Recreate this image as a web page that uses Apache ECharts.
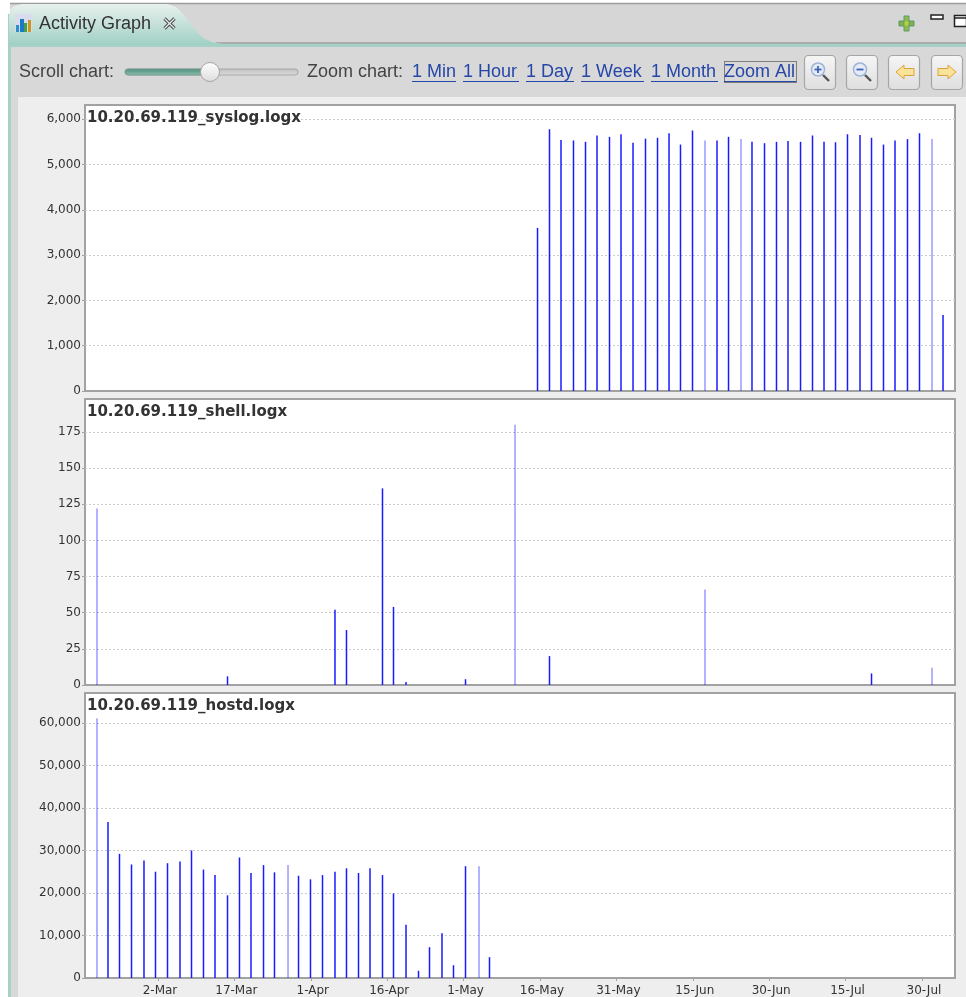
<!DOCTYPE html>
<html lang="en">
  <head>
    <meta charset="UTF-8" />
    <title>Activity Graph</title>
    <script src="https://cdn.jsdelivr.net/npm/echarts/dist/echarts.min.js"></script>
    <style>
      html, body { margin: 0; padding: 0; background: #fff; overflow: hidden; }
      #main { width: 966px; height: 997px; }
    </style>
  </head>
  <body>
    <div id="main"></div>
    <script>
      // x values are day of the year (non leap)
      var tickDays = [61, 76, 91, 106, 121, 136, 151, 166, 181, 196, 211];
      var tickNames = ["2-Mar", "17-Mar", "1-Apr", "16-Apr", "1-May", "16-May", "31-May", "15-Jun", "30-Jun", "15-Jul", "30-Jul"];

      var syslogDays = [135.52, 137.87, 140.13, 142.58, 144.94, 147.2, 149.65, 151.91, 154.27, 156.72, 159.08, 161.34, 163.59, 165.95, 168.4, 170.76, 173.02, 175.47, 177.63, 180.09, 182.44, 184.7, 187.16, 189.51, 191.77, 194.03, 196.38, 198.84, 201.1, 203.45, 205.71, 208.16, 210.52, 212.98, 215.14];
      var syslogCounts = [3600, 5780, 5540, 5530, 5500, 5640, 5610, 5670, 5480, 5570, 5590, 5690, 5440, 5750, 5530, 5530, 5610, 5560, 5500, 5470, 5500, 5520, 5500, 5640, 5500, 5490, 5670, 5650, 5590, 5440, 5530, 5560, 5690, 5560, 1680];

      var shellDays = [49.02, 74.65, 95.75, 98.01, 105.08, 107.24, 109.7, 121.38, 131.1, 137.87, 168.4, 201.1, 212.98];
      var shellCounts = [122, 6, 52, 38, 136, 54, 2, 4, 180, 20, 66, 8, 12];

      var hostdDays = [49.02, 51.18, 53.44, 55.8, 58.25, 60.51, 62.87, 65.32, 67.58, 69.93, 72.19, 74.65, 77, 79.26, 81.72, 83.87, 86.53, 88.59, 90.94, 93.3, 95.75, 98.01, 100.37, 102.63, 105.08, 107.24, 109.7, 112.15, 114.31, 116.76, 119.02, 121.38, 124.03, 126.09];
      var hostdCounts = [61100, 36700, 29200, 26700, 27650, 25000, 27000, 27400, 30000, 25500, 24200, 19450, 28350, 24700, 26550, 24850, 26550, 24050, 23200, 24200, 25000, 25800, 24700, 25800, 24200, 19900, 12500, 1700, 7250, 10550, 3000, 26300, 26300, 4900];

      // these bins came out much paler in the screenshot
      var paleDays = [49.02, 86.53, 124.03, 131.1, 168.4, 175.47, 212.98];

      var panelNames = ["10.20.69.119_syslog.logx", "10.20.69.119_shell.logx", "10.20.69.119_hostd.logx"];
      var syslogTicks = [0, 1000, 2000, 3000, 4000, 5000, 6000];
      var shellTicks = [0, 25, 50, 75, 100, 125, 150, 175];
      var hostdTicks = [0, 10000, 20000, 30000, 40000, 50000, 60000];
      var linkNames = ["1 Min", "1 Hour", "1 Day", "1 Week", "1 Month", "Zoom All"];

      var FONT = "'DejaVu Sans'";
      var UI_FONT = "'Liberation Sans'";
      var panels = [
        { top: 105, yMax: 6313, days: syslogDays, counts: syslogCounts, ticks: syslogTicks },
        { top: 399, yMax: 197.8, days: shellDays, counts: shellCounts, ticks: shellTicks },
        { top: 693, yMax: 67030, days: hostdDays, counts: hostdCounts, ticks: hostdTicks },
      ];

      var chartDom = document.getElementById("main");
      var myChart = echarts.init(chartDom, null, { renderer: "canvas" });

      function rect(x, y, w, h, fill, extra) {
        return { type: "rect", z: -10, shape: { x: x, y: y, width: w, height: h, r: (extra && extra.r) || 0 }, style: { fill: fill, stroke: extra && extra.stroke, lineWidth: extra && extra.lineWidth } };
      }
      function poly(points, fill, stroke) {
        return { type: "polygon", z: -5, shape: { points: points }, style: { fill: fill, stroke: stroke, lineWidth: 1 } };
      }
      function seg(x1, y1, x2, y2, color, width, dash) {
        return { type: "line", z: -5, shape: { x1: x1, y1: y1, x2: x2, y2: y2 }, style: { stroke: color, lineWidth: width, lineDash: dash } };
      }
      function label(text, x, y, fill, size) {
        return { type: "text", z: 5, style: { text: text, x: x, y: y, fill: fill, font: (size || 18) + "px " + UI_FONT, textVerticalAlign: "middle" } };
      }
      function vGrad(a, b) {
        return new echarts.graphic.LinearGradient(0, 0, 0, 1, [
          { offset: 0, color: a },
          { offset: 1, color: b },
        ]);
      }

      // the eclipse view around the charts
      var chrome = [
        rect(0, 0, 966, 997, "#ffffff"),
        rect(10, 3, 956, 41, "#d6d6d6"),
        rect(10, 44, 956, 953, "#d8d8d8"),
        seg(10, 3.5, 966, 3.5, "#9c9c9c", 1.5),
        seg(216, 43, 966, 43, "#9c9c9c", 1.5),
        rect(8, 44, 958, 3, "#a4d2c6"),
        rect(8, 14, 3, 983, "#a4d2c6"),
        rect(18, 97, 948, 900, "#eeeeee"),
      ];
      var tab = poly(
        [[9, 45], [9, 16], [10, 10], [14, 6], [22, 4], [168, 4], [176, 7], [183, 14], [190, 23], [196, 31], [203, 38], [212, 42], [224, 44], [224, 45]],
        vGrad("#e8f1ee", "#a0d0c4"),
        null
      );
      var tabIcon = [
        rect(15, 14, 17, 18, "#d8dcec"),
        rect(16, 25, 3, 7, "#2a8fd0"),
        rect(20, 19, 4, 13, "#1b7ac8"),
        rect(24, 23, 3, 9, "#4aa040"),
        rect(28, 20, 3, 12, "#c89820"),
      ].map(function (r) { r.z = -3; return r; });
      var closeIcon = [
        seg(164.5, 18.5, 174.5, 28.5, "#444", 3.2),
        seg(174.5, 18.5, 164.5, 28.5, "#444", 3.2),
        seg(164.5, 18.5, 174.5, 28.5, "#f0f0f0", 1.2),
        seg(174.5, 18.5, 164.5, 28.5, "#f0f0f0", 1.2),
      ];
      var windowIcons = [
        rect(899, 21, 15, 5, "#7fb04a", { stroke: "#5c9a6a", lineWidth: 1 }),
        rect(904, 16, 5, 15, "#8cbc50", { stroke: "#5c9a6a", lineWidth: 1 }),
        rect(904.5, 21.5, 4, 4, "#b8d040"),
        rect(931, 15, 12, 4, "#ffffff", { stroke: "#222", lineWidth: 1.5 }),
        rect(954.5, 15.5, 12, 11, "#ffffff", { stroke: "#222", lineWidth: 1.5 }),
        seg(954.5, 18, 966, 18, "#222", 1.5),
      ].map(function (r) { r.z = -3; return r; });

      var slider = [
        rect(125, 69, 173, 6, vGrad("#bdbdbd", "#dedede"), { r: 3, stroke: "#a8a8a8", lineWidth: 1 }),
        rect(125, 69, 85, 6, vGrad("#4d8b7a", "#8cc0b0"), { r: 3, stroke: "#7a9e94", lineWidth: 1 }),
        { type: "circle", shape: { cx: 210, cy: 72, r: 9.5 }, style: { fill: vGrad("#ffffff", "#dcdcdc"), stroke: "#a4a4a4", lineWidth: 1 } },
      ].map(function (r) { r.z = -3; return r; });

      var linkX = [412, 463, 526, 581, 651, 724];
      var linkW = [44, 56, 48, 63, 67, 72];
      var toolbar = [label("Scroll chart:", 19, 72, "#444"), label("Zoom chart:", 307, 72, "#444")];
      linkNames.forEach(function (name, i) {
        toolbar.push(label(name, linkX[i], 72, "#2646a8"));
        toolbar.push(seg(linkX[i], 81.5, linkX[i] + linkW[i], 81.5, "#2646a8", 1.2));
      });
      toolbar.push({ type: "rect", z: 4, shape: { x: 724.5, y: 61.5, width: 72, height: 21 }, style: { fill: null, stroke: "#222", lineWidth: 1, lineDash: [1, 1] } });

      var buttons = [];
      [804, 846, 888, 931].forEach(function (x) {
        buttons.push({ type: "rect", z: -7, shape: { x: x + 0.5, y: 55.5, width: 31, height: 34, r: 4 }, style: { fill: vGrad("#f6f6f6", "#dedede"), stroke: "#a6a6a6", lineWidth: 1.2 } });
      });
      function lens(cx, minus) {
        var out = [
          seg(cx + 5, 75, cx + 11, 81, "#555", 2.4),
          { type: "circle", z: -4, shape: { cx: cx, cy: 69.5, r: 6.5 }, style: { fill: "#e4ecf8", stroke: "#9fb4d6", lineWidth: 1.5 } },
          seg(cx - 3.5, 69.5, cx + 3.5, 69.5, "#3e62b8", 1.8),
        ];
        out[2].z = -3;
        if (!minus) {
          out.push(seg(cx, 66, cx, 73, "#3e62b8", 1.8));
          out[3].z = -3;
        }
        return out;
      }
      buttons = buttons.concat(lens(818, false), lens(860, true));
      buttons.push(poly([[896, 72], [904, 65], [904, 68.5], [914, 68.5], [914, 75.5], [904, 75.5], [904, 79]], "#fbe39a", "#d9a437"));
      buttons.push(poly([[956, 72], [948, 65], [948, 68.5], [938, 68.5], [938, 75.5], [948, 75.5], [948, 79]], "#fbe39a", "#d9a437"));

      var option = {
        animation: false,
        backgroundColor: "#ffffff",
        title: panels.map(function (p, i) {
          return {
            text: panelNames[i],
            left: 87,
            top: p.top + 6,
            padding: 0,
            z: 6,
            textStyle: { fontFamily: FONT, fontSize: 15, fontWeight: "bold", color: "#333333" },
          };
        }),
        grid: panels.map(function (p) {
          return { left: 85, width: 870, top: p.top, height: 286, show: true, backgroundColor: "#ffffff", borderColor: "#a2a2a2", borderWidth: 2 };
        }),
        xAxis: panels.map(function (p, i) {
          var last = i === panels.length - 1;
          return {
            type: "value",
            gridIndex: i,
            min: 46.667,
            max: 217.49,
            splitLine: { show: false },
            axisLine: { show: true, onZero: false, lineStyle: { color: "#a2a2a2", width: 2 } },
            axisTick: { show: last, length: 3, customValues: tickDays, lineStyle: { color: "#a2a2a2" } },
            axisLabel: {
              show: last,
              customValues: tickDays,
              margin: 7,
              padding: [0, 0, 0, 4],
              fontFamily: FONT,
              fontSize: 12,
              color: "#333333",
              formatter: function (v) {
                return tickNames[tickDays.indexOf(v)];
              },
            },
          };
        }),
        yAxis: panels.map(function (p, i) {
          return {
            type: "value",
            gridIndex: i,
            min: 0,
            max: p.yMax,
            axisLine: { show: false },
            axisTick: { show: true, length: 3, customValues: p.ticks, lineStyle: { color: "#a2a2a2" } },
            axisLabel: {
              customValues: p.ticks,
              margin: 4,
              fontFamily: FONT,
              fontSize: 12,
              color: "#333333",
              formatter: function (v) {
                return v.toLocaleString("en-US");
              },
            },
            splitLine: { show: true, lineStyle: { color: "#cccccc", width: 1, type: [2, 2] } },
          };
        }),
        series: panels.map(function (p, i) {
          return {
            type: "bar",
            xAxisIndex: i,
            yAxisIndex: i,
            barWidth: 1.5,
            z: 3,
            data: p.days.map(function (d, j) {
              return [d, p.counts[j]];
            }),
            itemStyle: {
              color: function (params) {
                return paleDays.indexOf(params.value[0]) >= 0 ? "rgba(0,0,255,0.4)" : "#1a1aff";
              },
            },
          };
        }),
        graphic: {
          elements: []
            .concat(chrome, [tab], tabIcon, closeIcon, windowIcons, slider, toolbar, buttons, [
              label("Activity Graph", 39, 24, "#333333"),
            ]),
        },
      };

      myChart.setOption(option);
    </script>
  </body>
</html>
